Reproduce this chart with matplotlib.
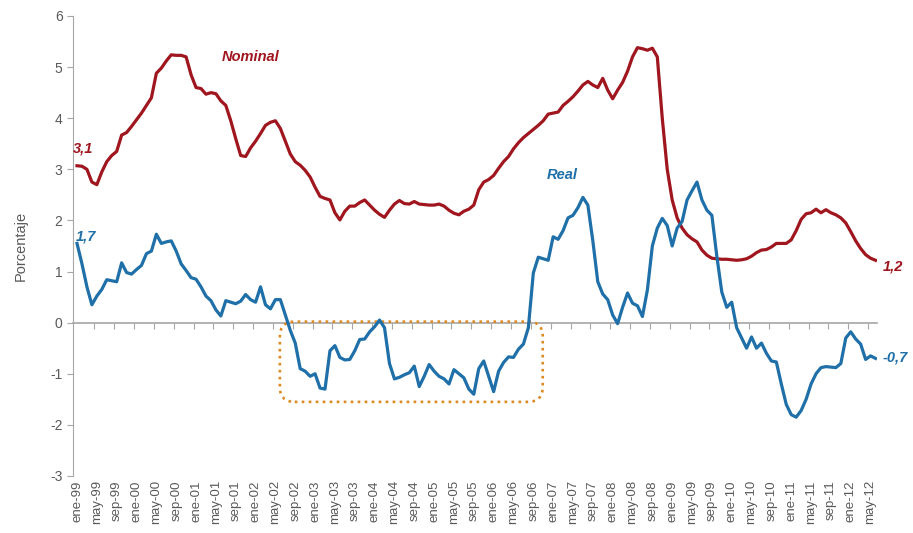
import matplotlib.pyplot as plt
from matplotlib.patches import FancyBboxPatch

# monthly data, ene-99 .. jun-12
nominal = [3.07, 3.06, 3.00, 2.75, 2.70, 2.95, 3.15, 3.27, 3.35, 3.67,
           3.72, 3.84, 3.97, 4.10, 4.25, 4.40, 4.88, 4.98, 5.12, 5.24,
           5.23, 5.23, 5.20, 4.85, 4.60, 4.58, 4.47, 4.50, 4.48, 4.34,
           4.25, 3.95, 3.60, 3.27, 3.25, 3.42, 3.55, 3.70, 3.86, 3.92,
           3.95, 3.80, 3.55, 3.30, 3.15, 3.08, 2.98, 2.85, 2.65, 2.47,
           2.43, 2.40, 2.15, 2.01, 2.18, 2.28, 2.28, 2.35, 2.40, 2.30,
           2.20, 2.12, 2.06, 2.20, 2.32, 2.39, 2.33, 2.32, 2.37, 2.32,
           2.31, 2.30, 2.30, 2.32, 2.28, 2.20, 2.14, 2.11, 2.18, 2.22,
           2.30, 2.60, 2.75, 2.80, 2.88, 3.02, 3.15, 3.25, 3.40, 3.52,
           3.62, 3.70, 3.78, 3.86, 3.95, 4.08, 4.10, 4.12, 4.25, 4.33,
           4.42, 4.53, 4.65, 4.72, 4.65, 4.60, 4.78, 4.55, 4.38, 4.55,
           4.70, 4.92, 5.20, 5.38, 5.36, 5.33, 5.37, 5.20, 4.00, 3.00,
           2.40, 2.05, 1.85, 1.72, 1.64, 1.58, 1.42, 1.32, 1.26, 1.25,
           1.24, 1.24, 1.23, 1.22, 1.23, 1.25, 1.30, 1.37, 1.42, 1.43,
           1.48, 1.55, 1.55, 1.55, 1.62, 1.80, 2.02, 2.13, 2.15, 2.22,
           2.15, 2.21, 2.15, 2.11, 2.05, 1.95, 1.78, 1.60, 1.45, 1.33,
           1.26, 1.22]

real = [1.55, 1.15, 0.70, 0.35, 0.52, 0.65, 0.84, 0.82, 0.80, 1.17,
        0.98, 0.95, 1.04, 1.12, 1.35, 1.40, 1.73, 1.55, 1.58, 1.60,
        1.40, 1.15, 1.02, 0.88, 0.85, 0.70, 0.52, 0.43, 0.25, 0.13,
        0.43, 0.40, 0.37, 0.42, 0.55, 0.45, 0.40, 0.70, 0.35, 0.27,
        0.45, 0.45, 0.15, -0.15, -0.40, -0.90, -0.95, -1.05, -1.00, -1.28,
        -1.30, -0.55, -0.45, -0.68, -0.73, -0.72, -0.55, -0.33, -0.32, -0.18,
        -0.08, 0.05, -0.10, -0.80, -1.10, -1.07, -1.02, -0.98, -0.85, -1.25,
        -1.05, -0.82, -0.95, -1.05, -1.10, -1.20, -0.92, -1.00, -1.08, -1.30,
        -1.40, -0.90, -0.75, -1.05, -1.35, -0.95, -0.78, -0.67, -0.68, -0.52,
        -0.42, -0.10, 0.97, 1.28, 1.25, 1.22, 1.68, 1.63, 1.80, 2.05,
        2.10, 2.25, 2.45, 2.30, 1.60, 0.80, 0.56, 0.45, 0.15, -0.02,
        0.30, 0.58, 0.38, 0.33, 0.12, 0.64, 1.50, 1.85, 2.04, 1.90,
        1.50, 1.85, 1.98, 2.40, 2.58, 2.75, 2.40, 2.20, 2.10, 1.30,
        0.60, 0.30, 0.40, -0.10, -0.30, -0.50, -0.28, -0.50, -0.40, -0.60,
        -0.75, -0.77, -1.20, -1.60, -1.80, -1.85, -1.72, -1.50, -1.20, -1.00,
        -0.88, -0.86, -0.87, -0.88, -0.80, -0.30, -0.18, -0.32, -0.42, -0.72,
        -0.65, -0.70]

tick_labels = ['ene-99', 'may-99', 'sep-99', 'ene-00', 'may-00', 'sep-00',
               'ene-01', 'may-01', 'sep-01', 'ene-02', 'may-02', 'sep-02',
               'ene-03', 'may-03', 'sep-03', 'ene-04', 'may-04', 'sep-04',
               'ene-05', 'may-05', 'sep-05', 'ene-06', 'may-06', 'sep-06',
               'ene-07', 'may-07', 'sep-07', 'ene-08', 'may-08', 'sep-08',
               'ene-09', 'may-09', 'sep-09', 'ene-10', 'may-10', 'sep-10',
               'ene-11', 'may-11', 'sep-11', 'ene-12', 'may-12']

red = '#a0161f'
blue = '#1f6fa8'
grey = '#595959'
axis_grey = '#a6a6a6'

plt.rcParams['font.family'] = ['Liberation Sans', 'DejaVu Sans']
plt.rcParams['axes.unicode_minus'] = False

fig = plt.figure(figsize=(9.13, 5.33), dpi=100)
ax = fig.add_axes([0.080, 0.107, 0.8806, 0.863])

x = list(range(len(nominal)))
ax.plot(x, nominal, color=red, lw=2.3, solid_joinstyle='round')
ax.plot(x, real, color=blue, lw=2.3, solid_joinstyle='round')

ax.set_xlim(-0.8, 161.3)
ax.set_ylim(-3, 6)
ax.set_yticks(range(-3, 7))
ax.set_xticks(range(0, len(tick_labels) * 4, 4))
ax.set_xticklabels(tick_labels, rotation=90)

for s in ['top', 'right', 'bottom']:
    ax.spines[s].set_visible(False)
ax.spines['left'].set_color(axis_grey)
ax.tick_params(axis='y', colors=axis_grey, labelcolor=grey, labelsize=10,
               length=4)
ax.tick_params(axis='x', length=0, labelcolor=grey, labelsize=9.5, pad=3)
ax.set_ylabel('Porcentaje', color=grey, fontsize=10.5, labelpad=16)

# zero line with its tick marks
zero = ax.secondary_xaxis(3 / 9)
zero.set_xticks([3.5 + 4 * k for k in range(40)])
zero.tick_params(labelbottom=False, length=4, color=axis_grey)
zero.spines['bottom'].set_color(axis_grey)
zero.spines['bottom'].set_linewidth(1.2)

# dotted highlight box
box = FancyBboxPatch((40.9, -1.55), 53.0, 1.57,
                     boxstyle='round,pad=0,rounding_size=3',
                     mutation_aspect=0.097, fill=False,
                     edgecolor='#dc8a22', lw=1.9, ls=':')
ax.add_patch(box)

txt = dict(fontsize=10.5, fontweight='bold', fontstyle='italic',
           ha='center', va='center')
ax.text(35.0, 5.20, 'Nominal', color=red, **txt)
ax.text(97.8, 2.89, 'Real', color=blue, **txt)
ax.text(1.2, 3.40, '3,1', color=red, **txt)
ax.text(1.9, 1.68, '1,7', color=blue, **txt)
ax.text(164.5, 1.09, '1,2', color=red, clip_on=False, **txt)
ax.text(164.9, -0.69, '-0,7', color=blue, clip_on=False, **txt)

fig.savefig('out.png', dpi=100)
